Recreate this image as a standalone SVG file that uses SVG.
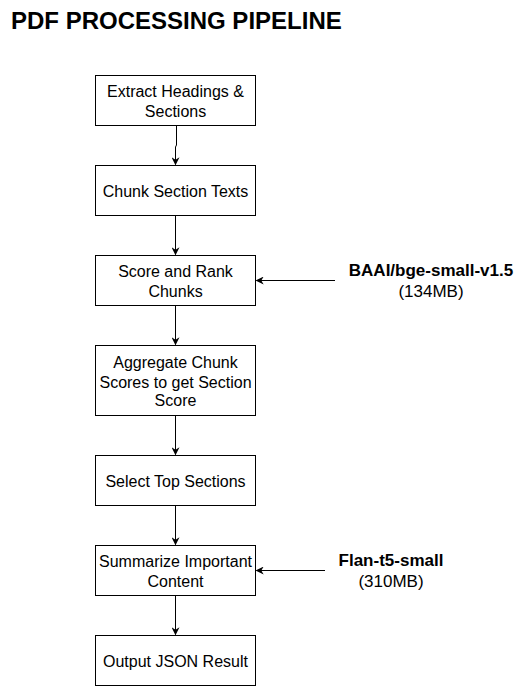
<svg xmlns="http://www.w3.org/2000/svg" width="525" height="686" viewBox="0 0 525 686">
<style>
.box{fill:#fff;stroke:#000;stroke-width:1}
.t{font-family:"Liberation Sans",Arial,sans-serif;font-size:16px;fill:#000;text-anchor:middle}
.m{font-size:17px}
.b{font-weight:bold}
.title{font-family:"Liberation Sans",Arial,sans-serif;font-size:24px;font-weight:bold;fill:#000}
.c{fill:none;stroke:#000;stroke-width:1}
</style>
<defs>
<marker id="ah" viewBox="0 0 10 10" refX="9" refY="5" markerWidth="8" markerHeight="8" markerUnits="userSpaceOnUse" orient="auto">
<path d="M0,0 L10,5 L0,10 L3,5 Z" fill="#000"/>
</marker>
</defs>
<rect width="525" height="686" fill="#fff"/>
<text class="title" x="11" y="29">PDF PROCESSING PIPELINE</text>
<g id="connectors">
<path class="c" d="M176.5,125.5 L176.5,145 L175.5,147 L175.5,164.5" marker-end="url(#ah)"/>
<path class="c" d="M175.5,215.5 L175.5,254.5" marker-end="url(#ah)"/>
<path class="c" d="M175.5,305.5 L175.5,344.5" marker-end="url(#ah)"/>
<path class="c" d="M175.5,415.5 L175.5,454.5" marker-end="url(#ah)"/>
<path class="c" d="M175.5,505.5 L175.5,544.5" marker-end="url(#ah)"/>
<path class="c" d="M175.5,595.5 L175.5,634.5" marker-end="url(#ah)"/>
<path class="c" d="M335,280.5 L256.5,280.5" marker-end="url(#ah)"/>
<path class="c" d="M325,570.5 L256.5,570.5" marker-end="url(#ah)"/>
</g>
<g id="n1"><rect class="box" x="95.5" y="75.5" width="160" height="50"/><text class="t" x="175.5" y="97">Extract Headings &amp;</text><text class="t" x="175.5" y="117">Sections</text></g>
<g id="n2"><rect class="box" x="95.5" y="165.5" width="160" height="50"/><text class="t" x="175.5" y="197">Chunk Section Texts</text></g>
<g id="n3"><rect class="box" x="95.5" y="255.5" width="160" height="50"/><text class="t" x="175.5" y="277">Score and Rank</text><text class="t" x="175.5" y="297">Chunks</text></g>
<g id="n4"><rect class="box" x="95.5" y="345.5" width="160" height="70"/><text class="t" x="175.5" y="368">Aggregate Chunk</text><text class="t" x="175.5" y="388">Scores to get Section</text><text class="t" x="175.5" y="406">Score</text></g>
<g id="n5"><rect class="box" x="95.5" y="455.5" width="160" height="50"/><text class="t" x="175.5" y="487">Select Top Sections</text></g>
<g id="n6"><rect class="box" x="95.5" y="545.5" width="160" height="50"/><text class="t" x="175.5" y="567">Summarize Important</text><text class="t" x="175.5" y="587">Content</text></g>
<g id="n7"><rect class="box" x="95.5" y="635.5" width="160" height="50"/><text class="t" x="175.5" y="667">Output JSON Result</text></g>
<g id="m1"><text class="t m b" x="431" y="276">BAAI/bge-small-v1.5</text><text class="t m" x="431" y="297">(134MB)</text></g>
<g id="m2"><text class="t m b" x="391" y="566">Flan-t5-small</text><text class="t m" x="391" y="587">(310MB)</text></g>
</svg>
